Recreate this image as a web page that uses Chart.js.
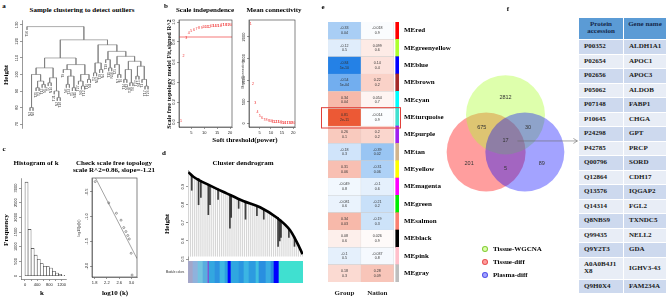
<!DOCTYPE html>
<html>
<head>
<meta charset="utf-8">
<script src="https://cdn.jsdelivr.net/npm/chart.js@4.4.1/dist/chart.umd.min.js"></script>
<style>
  body { margin: 0; width: 669px; height: 308px; background: #fff; position: relative; overflow: hidden; }
  canvas { position: absolute; }
  .lb { position: absolute; transform: translate(-50%, -50%); white-space: nowrap; font: bold 7px "Liberation Serif", serif; line-height: 1; color: #000; }
  .rot { transform: translate(-50%, -50%) rotate(-90deg); }
  .sm { font: 3.5px "Liberation Sans", sans-serif; color: #333; }
  .lgdot { position: absolute; width: 6px; height: 6px; border-radius: 50%; transform: translate(-50%, -50%); box-sizing: border-box; }
  #tbl { position: absolute; left: 578px; top: 17px; border-collapse: collapse; font: bold 7px "Liberation Serif", serif; color: #1a1a1a; }
  #tbl th { background: #5b9bd5; color: #15294b; height: 18px; vertical-align: top; padding: 3px 0 0 0; line-height: 7px; border: 1px solid #fff; font-weight: bold; }
  #tbl th:first-child { width: 44px; }
  #tbl th:last-child { width: 42px; }
  #tbl td { padding: 0 0 0 5px; line-height: 7px; border: 1px solid #fff; text-align: left; }
  #tbl tr { height: 14.5px; }
  #tbl tr.e td { background: #cdd9ee; }
  #tbl tr.o td { background: #e8edf6; }
</style>
</head>
<body>
<table id="tbl"></table>
<script>
// ---------------- data ----------------
// a: sample clustering, [height, left, right]
const sampleTree = [129, 'T50', [121,
  [110,
    [104,
      [100, [80, 'N3', 'N8'], [96, [92, 'T21', 'T2'], [94, 'T13', 'N5']]],
      [98, [95, 'T7', 'N14'], [90, 'T31', [86, 'N2', 'T18']]]],
    [106,
      [103, 'T9', [99, [94, 'N6', 'T24'], [92, 'T5', 'N11']]],
      [100, [96, 'T27', [93, 'N9', 'T12']], [97, 'T16', 'N1']]]],
  [118,
    [107, [101, 'T3', 'N13'], [103, 'T29', 'N4']],
    [114,
      [109, 'T19', [104, 'T11', 'N10']],
      [111,
        [106, 'T25', [100, 'N7', 'T6']],
        [108,
          [103, [97, 'T14', 'N12'], [95, 'T30', 'T8']],
          [105, [99, 'T22', 'N15'], [97, 'T1', [93, 'T17', 'T26']]]]]]]]];
const treeTicks = [70, 80, 90, 100, 110, 120, 130];

// b: soft threshold
const powers = [1, 2, 3, 4, 5, 6, 7, 8, 9, 10, 11, 12, 13, 14, 15, 16, 17, 18, 19, 20];
const fitR2 = [0.01, 0.66, 0.84, 0.89, 0.91, 0.92, 0.93, 0.94, 0.94, 0.95, 0.95, 0.95, 0.96, 0.96, 0.96, 0.96, 0.97, 0.97, 0.97, 0.97];
const r2Cut = 0.85;
const meanK = [2300, 920, 470, 260, 165, 118, 90, 70, 55, 45, 38, 30, 25, 22, 18, 15, 13, 11, 10, 9];
const powerTicks = [5, 10, 15, 20];
const r2Ticks = [0, 0.2, 0.4, 0.6, 0.8, 1.0];
const meanKTicks = [0, 500, 1000, 1500, 2000];

// c: connectivity histogram and scale free check
const kMid = [50, 150, 250, 350, 450, 550, 650, 750, 850, 950, 1050, 1150, 1250];
const kFreq = [3200, 1590, 940, 710, 570, 420, 330, 320, 270, 160, 100, 60, 20];
const kTicks = [0, 200, 400, 600, 800, 1000, 1200];
const freqTicks = [0, 500, 1000, 1500, 2000, 2500, 3000];
const logK = [1.82, 2.26, 2.51, 2.66, 2.75, 2.82, 2.88, 2.93, 2.99, 3.02];
const logPk = [-0.29, -0.72, -0.93, -1.07, -1.22, -1.30, -1.38, -1.45, -1.74, -2.18];
const sfSlope = -1.21, sfIntercept = 2.0;
const logKTicks = [1.8, 2.2, 2.6, 3.0];
const logPkTicks = [-2.0, -1.5, -1.0, -0.5];

// d: gene dendrogram
const dKnotIdx = [0, 2.4, 10.5, 18.4, 26.4, 34.5, 42.5, 48.9, 52.1, 55];
const dKnotH = [0.980, 0.955, 0.906, 0.863, 0.821, 0.786, 0.729, 0.660, 0.596, 0.527];
const leafTop = [0.975, 0.965, 0.958, 0.950, 0.942, 0.935, 0.930, 0.925, 0.920, 0.914,
  0.908, 0.902, 0.895, 0.890, 0.885, 0.880, 0.875, 0.870, 0.865, 0.855,
  0.852, 0.848, 0.843, 0.838, 0.833, 0.828, 0.823, 0.818, 0.813, 0.808,
  0.803, 0.798, 0.794, 0.790, 0.786, 0.782, 0.777, 0.772, 0.766, 0.760,
  0.752, 0.744, 0.736, 0.726, 0.716, 0.706, 0.695, 0.683, 0.670, 0.657,
  0.640, 0.620, 0.600, 0.580, 0.555, 0.530];
const leafBase = 0.515;
const spikeIdx = [1.6, 4.9, 6.0, 9.6, 10.4, 14.3, 20.0, 20.6, 24.2, 27.5, 33.0, 36.3, 43.2, 44.0, 44.6, 48.4, 51.1];
const spikeLow = [0.88, 0.80, 0.84, 0.745, 0.80, 0.83, 0.67, 0.73, 0.78, 0.72, 0.74, 0.72, 0.57, 0.60, 0.62, 0.62, 0.57];
const spikeHigh = [0.96, 0.945, 0.935, 0.91, 0.905, 0.888, 0.857, 0.854, 0.835, 0.818, 0.79, 0.775, 0.73, 0.72, 0.715, 0.665, 0.622];
const dTicks = [0.5, 0.6, 0.7, 0.8, 0.9];
const runColors = ['#a4a6c8', '#8fb2dc', '#74c4e0', '#5aaede', '#9a32cc', '#34a8e0', '#2e93e0', '#3fb8e2', '#2c9ee0', '#0000ff',
  '#30a6e0', '#2a96e0', '#3cb5e3', '#2d9be0', '#40c0e0', '#2a8fe0', '#3aaee2', '#2a8ce0', '#0000ff', '#40e0d0'];
const runLengths = [5, 5, 5, 5, 1, 6, 5, 5, 3, 3, 8, 5, 5, 7, 3, 7, 5, 3, 5, 24];

// e: module-trait heatmap
const modules = ['MEred', 'MEgreenyellow', 'MEblue', 'MEbrown', 'MEcyan', 'MEturquoise', 'MEpurple', 'MEtan',
  'MEyellow', 'MEmagenta', 'MEgreen', 'MEsalmon', 'MEblack', 'MEpink', 'MEgray'];
const moduleFill = ['#ff0000', '#adff2f', '#0000ff', '#a52a2a', '#00ffff', '#40e0d0', '#a020f0', '#d2b48c',
  '#ffff00', '#ff00ff', '#00ee00', '#fa8072', '#000000', '#ffc0cb', '#bebebe'];
const heatCols = ['Group', 'Nation'];
const corGroup = [-0.33, -0.12, -0.84, -0.54, 0.34, 0.81, 0.26, -0.18, 0.31, -0.049, -0.081, 0.34, 0.08, -0.1, 0.18];
const pGroup = ['0.04', '0.5', '5e-10', '5e-04', '0.04', '2e-11', '0.1', '0.3', '0.06', '0.8', '0.6', '0.03', '0.6', '0.5', '0.3'];
const corNation = [-0.018, 0.099, 0.14, 0.22, 0.054, -0.014, 0.2, -0.39, -0.31, -0.1, -0.21, -0.19, 0.026, -0.037, 0.28];
const pNation = ['0.9', '0.6', '0.4', '0.2', '0.7', '0.9', '0.2', '0.02', '0.06', '0.6', '0.2', '0.3', '0.9', '0.8', '0.09'];
const highlightModule = 'MEturquoise';

// f: venn + table
const vennSets = ['Tissue-WGCNA', 'Tissue-diff', 'Plasma-diff'];
const vennFill = ['rgba(173,255,47,0.4)', 'rgba(255,0,0,0.38)', 'rgba(0,0,255,0.36)'];
const vennEdge = ['rgba(120,200,40,0.9)', 'rgba(230,70,70,0.9)', 'rgba(70,70,230,0.9)'];
const vennCounts = [2812, 675, 30, 17, 201, 5, 89];
const proteins = ['P00352', 'P02654', 'P02656', 'P05062', 'P07148', 'P10645', 'P24298', 'P42785', 'Q00796',
  'Q12864', 'Q13576', 'Q14314', 'Q8NBS9', 'Q99435', 'Q9Y2T3', 'A0A0B4J1X8', 'Q9H0X4'];
const genes = ['ALDH1A1', 'APOC1', 'APOC3', 'ALDOB', 'FABP1', 'CHGA', 'GPT', 'PRCP', 'SORD',
  'CDH17', 'IQGAP2', 'FGL2', 'TXNDC5', 'NELL2', 'GDA', 'IGHV3-43', 'FAM234A'];

// ---------------- helpers ----------------
Chart.defaults.animation = false;
Chart.defaults.responsive = false;
Chart.defaults.events = [];
Chart.defaults.layout.autoPadding = false;
Chart.defaults.plugins.legend.display = false;
Chart.defaults.plugins.tooltip.enabled = false;
Chart.defaults.font.family = '"Liberation Sans", Arial, sans-serif';
Chart.defaults.font.size = 4;
Chart.defaults.color = '#222';

function canvasAt(left, top, w, h) {
  const c = document.createElement('canvas');
  c.width = w; c.height = h;
  c.style.left = left + 'px'; c.style.top = top + 'px';
  c.style.width = w + 'px'; c.style.height = h + 'px';
  document.body.appendChild(c);
  return c.getContext('2d');
}

function label(text, x, y, cls) {
  const d = document.createElement('div');
  d.className = 'lb' + (cls ? ' ' + cls : '');
  d.textContent = text;
  d.style.left = x + 'px'; d.style.top = y + 'px';
  document.body.appendChild(d);
  return d;
}

const fixedTicks = list => s => { s.ticks = list.map(v => ({ value: v })); };

function yAxis(min, max, ticks, width) {
  return {
    type: 'linear', min, max,
    afterBuildTicks: fixedTicks(ticks),
    afterFit: s => { s.width = width; s.paddingTop = 0; s.paddingBottom = 0; },
    ticks: { display: false },
    grid: { drawOnChartArea: false, tickLength: 2, color: '#333', lineWidth: 0.5 },
    border: { color: '#333', width: 0.5 }
  };
}

function xAxis(min, max, ticks, height, fmt) {
  return {
    type: 'linear', min, max, offset: false,
    afterBuildTicks: fixedTicks(ticks),
    afterFit: s => { s.height = height; s.paddingLeft = 0; s.paddingRight = 0; },
    ticks: { autoSkip: false, maxRotation: 0, minRotation: 0, padding: 1, callback: fmt || (v => v) },
    grid: { drawOnChartArea: false, offset: false, tickLength: 2, color: '#333', lineWidth: 0.5 },
    border: { color: '#333', width: 0.5 }
  };
}

const hidden = (min, max) => ({ type: 'linear', min, max, display: false, offset: false });

// R writes the y tick labels along the axis
function rotLabels(ticks, fmt) {
  return {
    id: 'rotLabels',
    afterDraw(chart) {
      const s = chart.scales.y, c = chart.ctx;
      c.save();
      c.font = '4px "Liberation Sans"';
      c.fillStyle = '#222';
      c.textAlign = 'center';
      c.textBaseline = 'bottom';
      ticks.forEach(v => {
        c.save();
        c.translate(s.right - 3, s.getPixelForValue(v));
        c.rotate(-Math.PI / 2);
        c.fillText(fmt ? fmt(v) : String(v), 0, 0);
        c.restore();
      });
      c.restore();
    }
  };
}

const boxPlugin = {
  id: 'box',
  afterDatasetsDraw(chart) {
    const a = chart.chartArea, c = chart.ctx;
    c.save();
    c.strokeStyle = '#333';
    c.lineWidth = 0.6;
    c.strokeRect(a.left, a.top, a.right - a.left, a.bottom - a.top);
    c.restore();
  }
};

// text() at the points, like R does for the power numbers
function pointNumbers(di, labels, color) {
  return {
    id: 'pointNumbers',
    afterDatasetsDraw(chart) {
      const c = chart.ctx;
      c.save();
      c.font = '3.6px "Liberation Sans"';
      c.fillStyle = color;
      c.textAlign = 'center';
      c.textBaseline = 'middle';
      chart.getDatasetMeta(di).data.forEach((el, i) => c.fillText(String(labels[i]), el.x, el.y));
      c.restore();
    }
  };
}

function treeLayout(tree, hang) {
  const segs = [], tips = [];
  let next = 0;
  function walk(node) {
    if (typeof node === 'string') return { x: next++, h: null, name: node };
    const [h, a, b] = node;
    const ca = walk(a), cb = walk(b);
    [ca, cb].forEach(ch => {
      const low = ch.h === null ? h - hang : ch.h;
      segs.push({ x: ch.x, y: h }, { x: ch.x, y: low }, { x: ch.x, y: NaN });
      if (ch.h === null) tips.push({ x: ch.x, y: low, name: ch.name });
    });
    segs.push({ x: ca.x, y: h }, { x: cb.x, y: h }, { x: cb.x, y: NaN });
    return { x: (ca.x + cb.x) / 2, h };
  }
  walk(tree);
  return { segs, tips };
}

function heatColor(r) {
  const a = Math.min(1, Math.abs(r) / 0.9);
  const end = r < 0 ? [20, 120, 228] : [234, 70, 30];
  const m = end.map(v => Math.round(255 + (v - 255) * a));
  return `rgb(${m[0]},${m[1]},${m[2]})`;
}

// ---------------- a ----------------
const tl = treeLayout(sampleTree, 2);
new Chart(canvasAt(0, 16, 165, 116), {
  type: 'scatter',
  data: { datasets: [{ data: tl.segs, showLine: true, spanGaps: false, pointRadius: 0, borderColor: '#767676', borderWidth: 0.6 }] },
  options: {
    layout: { padding: { top: 4, right: 10, bottom: 4 } },
    scales: { x: hidden(-1.65, 42.3), y: yAxis(67.6, 133, treeTicks, 22) }
  },
  plugins: [rotLabels(treeTicks), {
    id: 'leafNames',
    afterDatasetsDraw(chart) {
      const c = chart.ctx, sx = chart.scales.x, sy = chart.scales.y;
      c.save();
      c.font = '3.4px "Liberation Sans"';
      c.fillStyle = '#555';
      c.textAlign = 'right';
      c.textBaseline = 'middle';
      tl.tips.forEach(t => {
        c.save();
        c.translate(sx.getPixelForValue(t.x), sy.getPixelForValue(t.y) + 1);
        c.rotate(-Math.PI / 2);
        c.fillText(t.name, 0, 0);
        c.restore();
      });
      c.restore();
    }
  }]
});

// ---------------- b ----------------
new Chart(canvasAt(160, 16, 80, 124), {
  type: 'scatter',
  data: { datasets: [
    { data: powers.map((p, i) => ({ x: p, y: fitR2[i] })), pointRadius: 0 },
    { data: [{ x: 0.24, y: r2Cut }, { x: 20.76, y: r2Cut }], showLine: true, pointRadius: 0, borderColor: '#f04040', borderWidth: 0.7 }
  ] },
  options: {
    layout: { padding: { top: 4, right: 8 } },
    scales: { x: xAxis(0.24, 20.76, powerTicks, 13), y: yAxis(-0.05, 1.02, r2Ticks, 19) }
  },
  plugins: [boxPlugin, rotLabels(r2Ticks, v => v.toFixed(1)), pointNumbers(0, powers, '#f03030')]
});

new Chart(canvasAt(240, 16, 60, 124), {
  type: 'scatter',
  data: { datasets: [{ data: powers.map((p, i) => ({ x: p, y: meanK[i] })), pointRadius: 0 }] },
  options: {
    layout: { padding: { top: 4, right: 5 } },
    scales: { x: xAxis(0.24, 20.76, powerTicks, 13), y: yAxis(-83, 2392, meanKTicks, 9) }
  },
  plugins: [boxPlugin, rotLabels(meanKTicks), pointNumbers(0, powers, '#f03030')]
});

// ---------------- c ----------------
new Chart(canvasAt(0, 170, 70, 120), {
  type: 'bar',
  data: { datasets: [{
    data: kMid.map((m, i) => ({ x: m, y: kFreq[i] })),
    backgroundColor: '#fff', borderColor: '#333', borderWidth: 0.6, borderSkipped: false,
    barPercentage: 1, categoryPercentage: 1
  }] },
  options: {
    layout: { padding: { top: 8, right: 4 } },
    scales: { x: xAxis(-131, 1344, kTicks, 11, v => (v % 400 === 0 ? v : '')), y: yAxis(-102, 3341, freqTicks, 21) }
  },
  plugins: [rotLabels(freqTicks)]
});

new Chart(canvasAt(70, 170, 72, 120), {
  type: 'scatter',
  data: { datasets: [
    { data: logK.map((v, i) => ({ x: v, y: logPk[i] })), pointRadius: 1, borderColor: '#444', backgroundColor: 'rgba(0,0,0,0)', borderWidth: 0.5 },
    { data: [1.716, 3.18].map(v => ({ x: v, y: sfIntercept + sfSlope * v })), showLine: true, pointRadius: 0, borderColor: '#666', borderWidth: 0.6 }
  ] },
  options: {
    layout: { padding: { top: 8, right: 5 } },
    scales: { x: xAxis(1.716, 3.18, logKTicks, 13, v => v.toFixed(1)), y: yAxis(-2.22, -0.217, logPkTicks, 22) }
  },
  plugins: [boxPlugin, rotLabels(logPkTicks, v => v.toFixed(1))]
});

// ---------------- d ----------------
new Chart(canvasAt(160, 165, 150, 100), {
  type: 'bar',
  data: { datasets: [
    { type: 'line', data: dKnotIdx.map((x, i) => ({ x, y: dKnotH[i] })), borderColor: '#000', borderWidth: 2.6,
      pointRadius: 0, cubicInterpolationMode: 'monotone', order: 0 },
    { data: spikeIdx.map((x, i) => ({ x, y: [spikeLow[i], spikeHigh[i]] })), backgroundColor: 'rgba(20,20,20,0.8)',
      barThickness: 1, grouped: false, order: 1 },
    { data: leafTop.map((t, i) => ({ x: i, y: [leafBase, t] })), backgroundColor: '#d6d6d6',
      barThickness: 0.5, grouped: false, order: 2 }
  ] },
  options: {
    layout: { padding: { top: 5, right: 7, bottom: 5 } },
    scales: { x: hidden(-0.2, 55.2), y: yAxis(0.4945, 0.992, dTicks, 28) }
  },
  plugins: [rotLabels(dTicks, v => v.toFixed(1))]
});

const leafColors = [];
runColors.forEach((col, i) => { for (let k = 0; k < runLengths[i]; k++) leafColors.push(col); });
new Chart(canvasAt(188, 261, 115, 22), {
  type: 'bar',
  data: { labels: leafColors.map((_, i) => i), datasets: [{ data: leafColors.map(() => 1), backgroundColor: leafColors,
    barPercentage: 1, categoryPercentage: 1, borderWidth: 0 }] },
  options: { scales: { x: { display: false }, y: { display: false, min: 0, max: 1 } } }
});

// ---------------- e ----------------
const serif7 = { family: '"Liberation Serif", serif', weight: 'bold', size: 7 };
new Chart(canvasAt(320, 16, 140, 290), {
  type: 'bar',
  data: { labels: modules, datasets: [
    { data: modules.map(() => [0, 1]), backgroundColor: corGroup.map(heatColor), borderColor: 'rgba(205,205,205,0.9)', borderWidth: 0.4 },
    { data: modules.map(() => [1, 2]), backgroundColor: corNation.map(heatColor), borderColor: 'rgba(205,205,205,0.9)', borderWidth: 0.4 },
    { data: modules.map(() => [2.06, 2.16]), backgroundColor: moduleFill, borderWidth: 0 }
  ] },
  options: {
    indexAxis: 'y',
    layout: { padding: { top: 6, left: 8 } },
    datasets: { bar: { grouped: false, barPercentage: 1, categoryPercentage: 1, borderSkipped: false } },
    scales: {
      y: { position: 'right', afterFit: s => { s.width = 61; s.paddingTop = 0; s.paddingBottom = 0; },
        grid: { display: false, drawTicks: false }, border: { display: false },
        ticks: { padding: 5, color: '#000', font: serif7 } },
      x: { type: 'linear', min: 0, max: 2.16, afterBuildTicks: fixedTicks([0.5, 1.5]),
        afterFit: s => { s.height = 24; s.paddingLeft = 0; s.paddingRight = 0; },
        grid: { display: false, drawTicks: false }, border: { display: false },
        ticks: { padding: 7, color: '#222', font: serif7, callback: (v, i) => heatCols[i] } }
    }
  },
  plugins: [{
    id: 'cellText',
    afterDatasetsDraw(chart) {
      const c = chart.ctx;
      c.save();
      c.font = '3.6px "Liberation Sans"';
      c.fillStyle = '#333';
      c.textAlign = 'center';
      c.textBaseline = 'middle';
      [[corGroup, pGroup], [corNation, pNation]].forEach(([r, p], di) => {
        chart.getDatasetMeta(di).data.forEach((el, i) => {
          const cx = (el.x + el.base) / 2;
          c.fillText(String(r[i]), cx, el.y - 2.3);
          c.fillText(p[i], cx, el.y + 2.3);
        });
      });
      const y = chart.scales.y, a = chart.chartArea;
      const band = (a.bottom - a.top) / modules.length;
      const cy = y.getPixelForValue(modules.indexOf(highlightModule));
      c.strokeStyle = '#e0403a';
      c.lineWidth = 1;
      c.strokeRect(a.left - 6.5, cy - band / 2 - 1, a.right - a.left + 8, band + 3);
      c.restore();
    }
  }]
});

// ---------------- venn ----------------
const vennCentre = [[0, 0.94], [-0.49, 0], [0.49, 0]];          // layout of the three sets
const vennSpots = [[0, 1.37], [-0.6, 0.63], [0.57, 0.63], [0, 0.28], [-0.92, -0.28], [0, -0.41], [0.92, -0.28]];
const drawOrder = [1, 0, 2];
const venn = new Chart(canvasAt(430, 60, 150, 150), {
  type: 'bubble',
  data: { datasets: [{
    data: drawOrder.map(k => ({ x: vennCentre[k][0], y: vennCentre[k][1] })),
    backgroundColor: drawOrder.map(k => vennFill[k]),
    borderWidth: 0, clip: false, radius: 0
  }] },
  options: { scales: { x: hidden(-1.911, 1.886), y: hidden(-1.468, 2.329) } },
  plugins: [{
    id: 'vennText',
    afterDatasetsDraw(chart) {
      const c = chart.ctx, sx = chart.scales.x, sy = chart.scales.y;
      c.save();
      c.font = '5.5px "Liberation Sans"';
      c.fillStyle = '#333';
      c.textAlign = 'center';
      c.textBaseline = 'middle';
      vennCounts.forEach((n, i) => c.fillText(String(n), sx.getPixelForValue(vennSpots[i][0]), sy.getPixelForValue(vennSpots[i][1])));
      // arrow to the table
      const x0 = sx.getPixelForValue(0.3), x1 = sx.getPixelForValue(1.82), y0 = sy.getPixelForValue(0.28);
      c.strokeStyle = '#6a6a6a';
      c.lineWidth = 0.6;
      c.beginPath();
      c.moveTo(x0, y0); c.lineTo(x1, y0);
      c.moveTo(x1 - 4, y0 - 2.5); c.lineTo(x1, y0); c.lineTo(x1 - 4, y0 + 2.5);
      c.stroke();
      c.restore();
    }
  }]
});
// circle radius = one unit of the x scale
venn.data.datasets[0].data.forEach(d => { d.r = venn.scales.x.getPixelForValue(1) - venn.scales.x.getPixelForValue(0); });
venn.update();

vennSets.forEach((name, i) => {
  const dot = document.createElement('div');
  dot.className = 'lgdot';
  dot.style.left = '485px';
  dot.style.top = (249 + i * 13) + 'px';
  dot.style.background = vennFill[i];
  dot.style.border = '0.7px solid ' + vennEdge[i];
  document.body.appendChild(dot);
  const t = label(name, 493, 249 + i * 13);
  t.style.transform = 'translate(0, -50%)';
});

// ---------------- table ----------------
let rows = '<tr><th>Protein<br>accession</th><th>Gene name</th></tr>';
proteins.forEach((p, i) => {
  const acc = p.length > 8 ? p.slice(0, 8) + '<br>' + p.slice(8) : p;
  rows += `<tr class="${i % 2 ? 'o' : 'e'}"${p.length > 8 ? ' style="height:22px"' : ''}><td>${acc}</td><td>${genes[i]}</td></tr>`;
});
document.getElementById('tbl').innerHTML = rows;

// ---------------- titles and axis names ----------------
label('a', 4, 6);
label('Sample clustering to detect outliers', 82, 9.5);
label('Height', 6, 75, 'rot');
label('b', 166, 6);
label('Scale independence', 205, 9.5);
label('Mean connectivity', 274, 9.5);
label('Scale free topology model Fit,signed R^2', 169, 74, 'rot').style.fontSize = '6.3px';
label('Mean Connectivity', 243, 74, 'rot sm');
label('Soft threshold(power)', 245, 140);
label('c', 4, 149);
label('Histogram of k', 36, 163);
label('Check scale free topology', 114, 163);
label('scale R^2=0.86, slope=-1.21', 114, 170);
label('Frequency', 6, 230, 'rot');
label('k', 42, 293);
label('log10(p(k))', 79, 228, 'rot sm');
label('log10 (k)', 115, 293);
label('d', 164, 153);
label('Cluster dendrogram', 243, 163);
label('Height', 167, 224, 'rot');
label('Module colors', 175, 272, 'sm').style.fontSize = '3px';
label('e', 323, 7);
label('f', 508, 9);
</script>
</body>
</html>
